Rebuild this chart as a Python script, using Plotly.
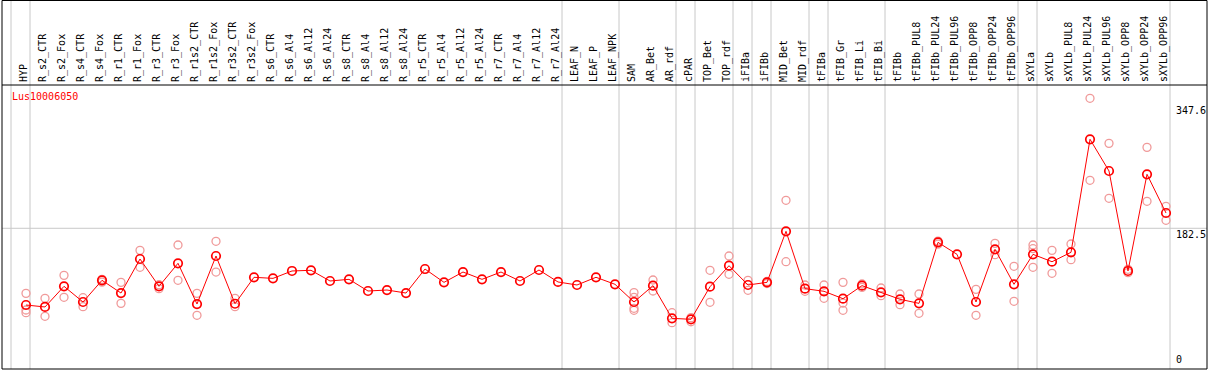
import plotly.graph_objects as go

categories = ["HYP", "R_s2_CTR", "R_s2_Fox", "R_s4_CTR", "R_s4_Fox", "R_r1_CTR", "R_r1_Fox",
              "R_r3_CTR", "R_r3_Fox", "R_r1s2_CTR", "R_r1s2_Fox", "R_r3s2_CTR", "R_r3s2_Fox",
              "R_s6_CTR", "R_s6_Al4", "R_s6_Al12", "R_s6_Al24", "R_s8_CTR", "R_s8_Al4", "R_s8_Al12",
              "R_s8_Al24", "R_r5_CTR", "R_r5_Al4", "R_r5_Al12", "R_r5_Al24", "R_r7_CTR", "R_r7_Al4",
              "R_r7_Al12", "R_r7_Al24", "LEAF_N", "LEAF_P", "LEAF_NPK", "SAM", "AR_Bet", "AR_rdf",
              "cPAR", "TOP_Bet", "TOP_rdf", "iFIBa", "iFIBb", "MID_Bet", "MID_rdf", "tFIBa",
              "tFIB_Gr", "tFIB_Li", "tFIB_Bi", "tFIBb", "tFIBb_PUL8", "tFIBb_PUL24", "tFIBb_PUL96",
              "tFIBb_OPP8", "tFIBb_OPP24", "tFIBb_OPP96", "sXYLa", "sXYLb", "sXYLb_PUL8",
              "sXYLb_PUL24", "sXYLb_PUL96", "sXYLb_OPP8", "sXYLb_OPP24", "sXYLb_OPP96"]

means = [80.6, 78.0, 105.4, 84.6, 113.4, 96.5, 141.7, 105.4, 136.0, 81.9, 145.7, 82.3, 117.4,
         116.0, 125.8, 126.7, 112.5, 114.7, 99.2, 100.5, 96.5, 128.4, 110.7, 124.4, 114.7, 124.4,
         112.5, 127.1, 111.2, 107.2, 117.4, 108.1, 84.6, 106.3, 62.9, 61.6, 104.9, 132.8, 107.2,
         110.7, 178.5, 102.3, 98.8, 89.0, 106.3, 97.5, 88.2, 82.8, 163.8, 147.9, 84.6, 154.6,
         108.1, 147.9, 138.1, 150.6, 300.7, 258.6, 125.8, 254.2, 202.8]

replicates = [[96.1, 74.0, 70.4], [89.5, 65.6], [120.0, 90.8], [90.3, 78.4], [114.7, 111.0],
              [110.7, 82.8], [153.2, 130.7], [107.6, 102.3], [160.3, 113.4], [96.1, 66.9],
              [165.2, 124.4], [89.5, 78.4], [], [], [], [], [], [], [], [], [], [], [], [], [],
              [], [], [], [], [], [], [], [97.1, 90.8, 76.2, 73.6], [113.8, 99.2], [70.4, 57.1],
              [63.8, 58.4], [126.7, 84.2], [145.7, 121.4], [113.4, 100.1], [111.8, 109.2],
              [219.7, 138.1], [107.2, 98.8], [107.2, 89.5], [110.7, 83.3, 73.6], [108.5, 104.0],
              [103.2, 93.0], [95.2, 81.0], [95.2, 69.6], [165.5, 161.5], [], [101.4, 66.9],
              [162.5, 147.4], [132.0, 85.5], [160.3, 155.4, 130.7], [153.2, 122.7],
              [161.6, 140.8], [355.1, 246.2], [295.3, 222.3], [128.0, 123.6], [290.0, 218.3],
              [211.7, 193.1]]

group_starts = ["HYP", "R_s2_CTR", "LEAF_N", "SAM", "cPAR", "TOP_Bet", "iFIBa", "iFIBb",
                "MID_Bet", "tFIBa", "tFIB_Gr", "tFIBb", "sXYLa", "sXYLb"]

gene = "Lus10006050"
y_labels = [347.6, 182.5, 0]

x_idx = list(range(len(categories)))
rep_x, rep_y = [], []
for i, reps in enumerate(replicates):
    for v in reps:
        rep_x.append(i)
        rep_y.append(v)

RED = "#ff0000"
PINK = "#f09a9a"
GRAY = "#c8c8c8"
FONT = "DejaVu Sans Mono"

fig = go.Figure()
fig.add_trace(go.Scatter(x=rep_x, y=rep_y, mode="markers",
                         marker=dict(symbol="circle-open", size=8, color=PINK, line=dict(width=1.3)),
                         hoverinfo="skip", showlegend=False))
fig.add_trace(go.Scatter(x=x_idx, y=means, mode="lines+markers",
                         line=dict(color=RED, width=1),
                         marker=dict(symbol="circle-open", size=8.5, color=RED, line=dict(width=1.7)),
                         showlegend=False))

shapes = []
shapes.append(dict(type="line", xref="paper", yref="y", x0=0, x1=1, y0=182.5, y1=182.5,
                   line=dict(color=GRAY, width=1), layer="below"))
sep_off = 15.0 / 19.0
for g in group_starts:
    xi = categories.index(g) - sep_off
    shapes.append(dict(type="line", xref="x", yref="paper", x0=xi, x1=xi, y0=0, y1=1.3,
                       line=dict(color=GRAY, width=1), layer="below"))
end_x = len(categories) - sep_off
shapes.append(dict(type="line", xref="x", yref="paper", x0=end_x, x1=end_x, y0=0, y1=1.3,
                   line=dict(color=GRAY, width=1), layer="below"))
shapes.append(dict(type="rect", xref="paper", yref="paper", x0=0, x1=1, y0=0, y1=1.2975,
                   line=dict(color="black", width=1)))
shapes.append(dict(type="line", xref="paper", yref="paper", x0=0, x1=1, y0=1, y1=1,
                   line=dict(color="black", width=1)))

annotations = [dict(text=gene, xref="paper", yref="paper", x=0.0066, y=0.958, xanchor="left",
                    yanchor="middle", showarrow=False, font=dict(family=FONT, size=10, color=RED))]
for v in y_labels:
    annotations.append(dict(text=str(v) if v else "0", xref="paper", yref="y", x=0.9735, y=v,
                            xanchor="left", yanchor="bottom" if v == 0 else "top",
                            showarrow=False, borderpad=0,
                            font=dict(family=FONT, size=10, color="black")))

fig.update_layout(
    width=1209, height=370,
    margin=dict(l=2, r=2, t=85, b=1),
    paper_bgcolor="white", plot_bgcolor="white",
    shapes=shapes, annotations=annotations,
    xaxis=dict(range=[-24 / 19, 1181 / 19], tickmode="array", tickvals=x_idx, ticktext=categories,
               side="top", tickangle=-90, ticks="", showgrid=False, zeroline=False,
               showline=False, ticklabelshift=-2, ticklabelstandoff=2,
               tickfont=dict(family=FONT, size=10, color="black")),
    yaxis=dict(range=[-4.38, 372.8], showticklabels=False, showgrid=False, zeroline=False,
               showline=False),
)

fig.write_html("out.html", config={"displayModeBar": False},
               post_script="document.body.style.margin='0';document.body.style.overflow='hidden';")
